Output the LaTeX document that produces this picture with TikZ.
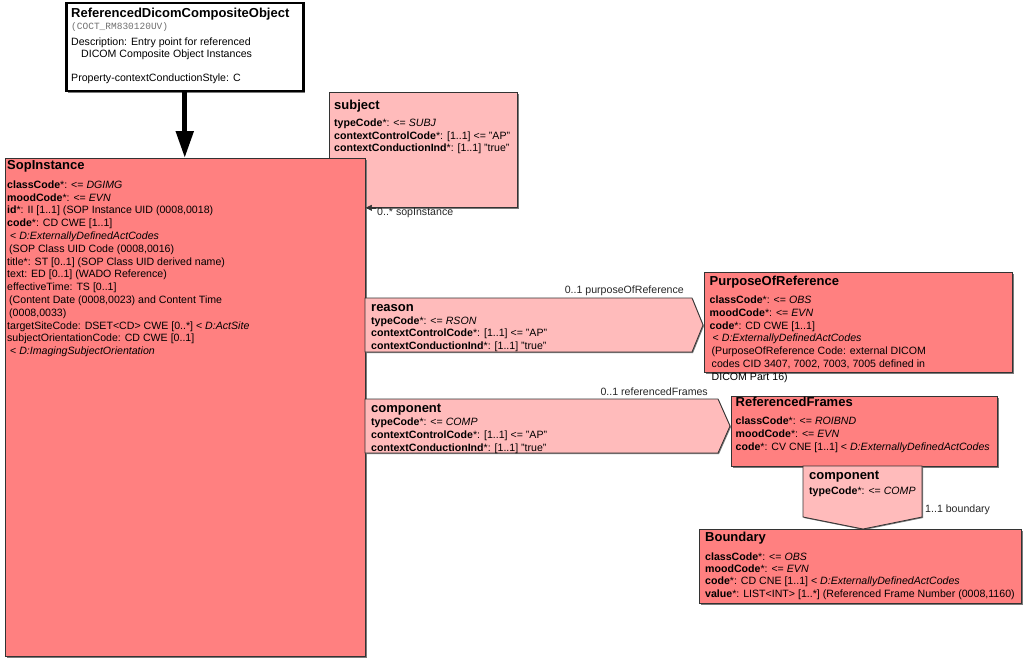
\documentclass[tikz,border=0pt]{standalone}
\usepackage{fontspec}
\setmainfont{Liberation Sans}
\setmonofont{Liberation Mono}
\usetikzlibrary{arrows.meta,shadows}

\definecolor{clsred}{HTML}{FF8080}
\definecolor{relpink}{HTML}{FFBBBB}
\definecolor{edgegray}{HTML}{333333}
\definecolor{shadegray}{HTML}{7A7A7A}
\definecolor{cocgray}{HTML}{707070}

\newcommand{\ttl}[1]{{\fontsize{13}{15}\selectfont\bfseries\rule{0pt}{10pt}#1}}

\tikzset{
  clsbox/.style={draw=edgegray, fill=clsred, line width=0.8pt, inner sep=0pt, anchor=north west,
    drop shadow={shadow xshift=1.5pt, shadow yshift=-1.5pt, fill=shadegray, opacity=1}},
  relshape/.style={draw=edgegray, fill=relpink, line width=0.8pt,
    drop shadow={shadow xshift=1pt, shadow yshift=-1pt, fill=shadegray, opacity=1}},
  txt/.style={anchor=north west, inner sep=0pt, align=left},
  lbl/.style={inner sep=0pt, text=black!85}
}

\begin{document}
\begin{tikzpicture}[x=1pt, y=-1pt, font=\fontsize{10.6}{12.8}\selectfont]
    \useasboundingbox (0,0) rectangle (1024,658);
    %% subject
    \node[clsbox, fill=relpink, minimum width=188pt, minimum height=115pt] (subj) at (329,92) {};
    \node[txt] (subjtxt) at (334,99) {\ttl{subject}\\[4.3pt]
        \textbf{typeCode}*: <= \textit{SUBJ}\\
        \textbf{contextControlCode}*: [1..1] <= "AP"\\
        \textbf{contextConductionInd}*: [1..1] "true"};
    %% SopInstance
    \node[clsbox, minimum width=360pt, minimum height=498pt] (sop) at (5,158) {};
    \node[txt] (soptxt) at (7,159.7) {\ttl{SopInstance}\\[5.5pt]
        \textbf{classCode}*: <= \textit{DGIMG}\\
        \textbf{moodCode}*: <= \textit{EVN}\\
        \textbf{id}*: II [1..1] (SOP Instance UID (0008,0018)\\
        \textbf{code}*: CD CWE [1..1]\\
        \hspace{3pt}< \textit{D:ExternallyDefinedActCodes}\\
        \hspace{2pt}(SOP Class UID Code (0008,0016)\\
        title*: ST [0..1] (SOP Class UID derived name)\\
        text: ED [0..1] (WADO Reference)\\
        effectiveTime: TS [0..1]\\
        \hspace{2pt}(Content Date (0008,0023) and Content Time\\
        \hspace{2pt}(0008,0033)\\
        targetSiteCode: DSET<CD> CWE [0..*] < \textit{D:ActSite}\\
        subjectOrientationCode: CD CWE [0..1]\\
        \hspace{3pt}< \textit{D:ImagingSubjectOrientation}};
    %% entry point
    \node[clsbox, fill=white, draw=black, line width=2.5pt, minimum width=237pt, minimum height=88pt] (entry) at (65,2) {};
    \node[txt, font=\fontsize{10.6}{12}\selectfont] (entrytxt) at (71,7) {\ttl{ReferencedDicomCompositeObject}\\
        {\fontsize{9.5}{10}\selectfont\ttfamily\color{cocgray}(COCT\_RM830120UV)}\\[4.5pt]
        Description: Entry point for referenced\\
        \hspace{10pt}DICOM Composite Object Instances\\[12pt]
        Property-contextConductionStyle: C};
    \draw[line width=5pt, -{Triangle[length=27pt,width=17pt]}] (entry.south) -- (entry.south |- sop.north);
    %% reason and component
    \draw[relshape] (365,298) -- (692,298) -- (703,325) -- (692,352) -- (365,352) -- cycle;
    \node[txt] (reastxt) at (371,301) {\ttl{reason}\\
        \textbf{typeCode}*: <= \textit{RSON}\\
        \textbf{contextControlCode}*: [1..1] <= "AP"\\
        \textbf{contextConductionInd}*: [1..1] "true"};
    \draw[relshape] (365,399) -- (718,399) -- (730,426) -- (718,453) -- (365,453) -- cycle;
    \node[txt] (comptxt) at (371,402.7) {\ttl{component}\\
        \textbf{typeCode}*: <= \textit{COMP}\\
        \textbf{contextControlCode}*: [1..1] <= "AP"\\
        \textbf{contextConductionInd}*: [1..1] "true"};
    %% PurposeOfReference
    \node[clsbox, minimum width=308pt, minimum height=100pt] (purp) at (704,272) {};
    \node[txt] (purptxt) at (709.5,275.4) {\ttl{PurposeOfReference}\\[5pt]
        \textbf{classCode}*: <= \textit{OBS}\\
        \textbf{moodCode}*: <= \textit{EVN}\\
        \textbf{code}*: CD CWE [1..1]\\
        \hspace{3pt}< \textit{D:ExternallyDefinedActCodes}\\
        \hspace{2pt}(PurposeOfReference Code: external DICOM\\
        \hspace{2pt}codes CID 3407, 7002, 7003, 7005 defined in\\
        \hspace{2pt}DICOM Part 16)};
    %% ReferencedFrames
    \node[clsbox, minimum width=266pt, minimum height=70pt] (frames) at (731,396) {};
    \node[txt] (framestxt) at (735.5,396.4) {\ttl{ReferencedFrames}\\[5.3pt]
        \textbf{classCode}*: <= \textit{ROIBND}\\
        \textbf{moodCode}*: <= \textit{EVN}\\
        \textbf{code}*: CV CNE [1..1] < \textit{D:ExternallyDefinedActCodes}};
    %% component to Boundary
    \draw[relshape] (803,466) -- (922,466) -- (922,517) -- (863,529) -- (803,517) -- cycle;
    \node[txt] (comp2txt) at (809,469.3) {\ttl{component}\\[2.4pt]
        \textbf{typeCode}*: <= \textit{COMP}};
    %% Boundary
    \node[clsbox, minimum width=322pt, minimum height=74pt] (bound) at (699,529) {};
    \node[txt, font=\fontsize{10.6}{12.4}\selectfont] (boundtxt) at (705,531.4) {\ttl{Boundary}\\[6pt]
        \textbf{classCode}*: <= \textit{OBS}\\
        \textbf{moodCode}*: <= \textit{EVN}\\
        \textbf{code}*: CD CNE [1..1] < \textit{D:ExternallyDefinedActCodes}\\
        \textbf{value}*: LIST<INT> [1..*] (Referenced Frame Number (0008,1160)};
    %% labels
    \coordinate (sopin) at (sop.east |- subj.south);
    \draw[edgegray, -{Triangle[length=6pt,width=6pt]}] ([xshift=10pt]sopin) -- (sopin);
    \node[lbl, anchor=west] (lsop) at (377,213) {0..* sopInstance};
    \node[lbl, anchor=east] (lpurp) at (684,291) {0..1 purposeOfReference};
    \node[lbl, anchor=east] (lframes) at (708,392) {0..1 referencedFrames};
    \node[lbl, anchor=west] (lbound) at (925,510) {1..1 boundary};
\end{tikzpicture}
\end{document}
